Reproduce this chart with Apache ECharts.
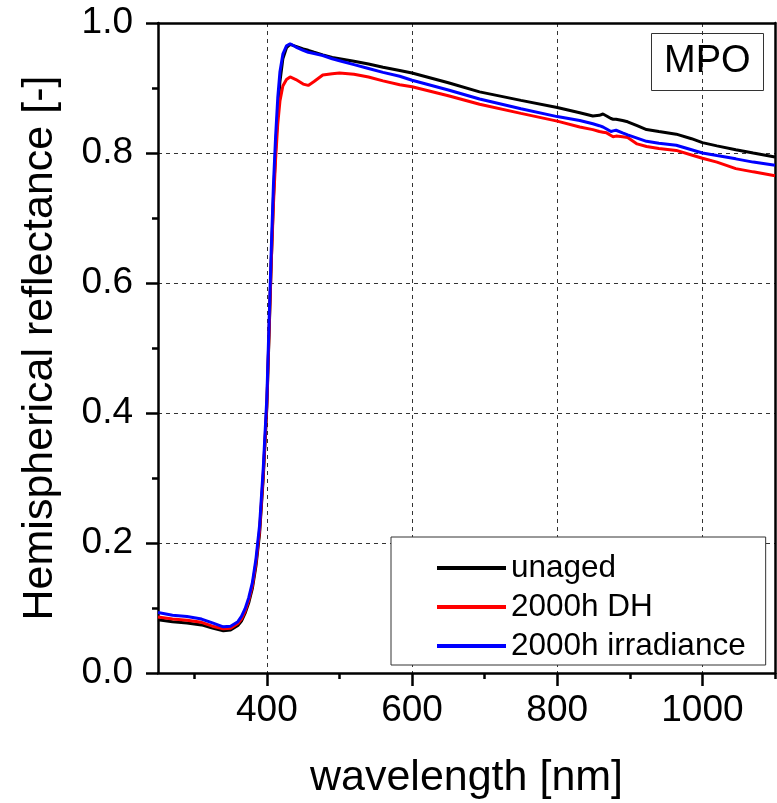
<!DOCTYPE html>
<html>
<head>
<meta charset="utf-8">
<script src="https://cdn.jsdelivr.net/npm/echarts@6/dist/echarts.min.js"></script>
<style>html,body{margin:0;padding:0;background:#fff}#c{width:777px;height:803px}</style>
</head>
<body>
<div id="c"></div>
<script>
const wavelengths = [250,270,290,310,325,340,350,360,365,370,375,380,385,390,395,400,403,406,409,412,415,418,422,427,432,440,450,457,465,477,490,500,520,540,560,583,600,650,693,750,800,831,849,858,863,868,874,877,881,890,897,910,923,940,964,985,1000,1020,1046,1070,1100];
const unaged = [0.082,0.079,0.077,0.074,0.069,0.065,0.066,0.073,0.080,0.092,0.108,0.130,0.165,0.215,0.300,0.410,0.520,0.630,0.730,0.805,0.865,0.910,0.945,0.962,0.967,0.964,0.960,0.958,0.955,0.951,0.947,0.945,0.941,0.937,0.932,0.927,0.923,0.908,0.894,0.881,0.870,0.862,0.857,0.858,0.860,0.857,0.853,0.852,0.852,0.850,0.848,0.842,0.836,0.833,0.829,0.822,0.816,0.811,0.805,0.800,0.794];
const dh = [0.086,0.083,0.081,0.078,0.072,0.068,0.069,0.076,0.083,0.095,0.112,0.134,0.170,0.220,0.305,0.415,0.525,0.630,0.720,0.790,0.845,0.880,0.903,0.913,0.917,0.913,0.906,0.904,0.910,0.920,0.922,0.923,0.921,0.917,0.911,0.905,0.902,0.888,0.875,0.861,0.849,0.840,0.836,0.833,0.832,0.831,0.827,0.825,0.826,0.825,0.824,0.814,0.810,0.807,0.804,0.797,0.792,0.786,0.776,0.771,0.765];
const irradiance = [0.093,0.089,0.087,0.083,0.077,0.071,0.072,0.079,0.087,0.099,0.116,0.139,0.176,0.228,0.315,0.425,0.540,0.650,0.750,0.825,0.885,0.925,0.952,0.965,0.968,0.963,0.958,0.955,0.953,0.950,0.945,0.942,0.936,0.930,0.924,0.918,0.912,0.897,0.883,0.868,0.856,0.850,0.845,0.842,0.840,0.837,0.833,0.834,0.835,0.831,0.828,0.823,0.818,0.815,0.812,0.805,0.800,0.796,0.791,0.786,0.781];
const seriesNames = ['unaged','2000h DH','2000h irradiance'];
const xMajorTicks = [400,600,800,1000];
const xMinorTicks = [300,500,700,900,1100];

const FONT = 'Liberation Sans, Arial, Helvetica, sans-serif';
const pairs = arr => wavelengths.map((w,i)=>[w,arr[i]]);
const chart = echarts.init(document.getElementById('c'));
const mkSeries = (name, arr, color) => ({
  name, type:'line', data: pairs(arr), symbol:'none', smooth:false,
  lineStyle:{color, width:3}, itemStyle:{color}, xAxisIndex:0, yAxisIndex:0, z:3
});
chart.setOption({
  animation:false,
  backgroundColor:'#fff',
  grid:{left:158, right:2, top:23, bottom:130, containLabel:false, outerBoundsMode:'none'},
  title:{text:'MPO', left:651, top:33, borderColor:'#333', borderWidth:1,
    padding:[10,13,10,13],
    textStyle:{fontFamily:FONT, fontSize:38, fontWeight:'normal', color:'#000', lineHeight:38}},
  legend:{orient:'vertical', left:391, top:537, align:'left',
    data:seriesNames, icon:'rect', itemWidth:69, itemHeight:4, itemGap:7, itemTextGap:9,
    borderColor:'#333', borderWidth:1, padding:[15,20,3,46], backgroundColor:'#fff',
    textStyle:{fontFamily:FONT, fontSize:31.5, color:'#000', lineHeight:30}},
  xAxis:[
    {type:'value', min:250, max:1100, position:'bottom',
     name:'wavelength [nm]', nameLocation:'middle', nameGap:84,
     nameTextStyle:{fontFamily:FONT, fontSize:43, color:'#000'},
     axisLine:{show:true, onZero:false, lineStyle:{color:'#000', width:2.5}},
     axisTick:{show:true, inside:false, length:13, customValues:xMajorTicks, lineStyle:{color:'#000', width:2.5}},
     axisLabel:{show:true, customValues:xMajorTicks, margin:19, fontFamily:FONT, fontSize:37, color:'#000', formatter:v=>String(v)},
     splitLine:{show:true, lineStyle:{color:'#333', type:[4,4], width:1}},
     minorTick:{show:false}},
    {type:'value', min:250, max:1100, position:'bottom',
     axisLine:{show:false}, axisLabel:{show:false}, splitLine:{show:false},
     axisTick:{show:true, inside:false, length:6, customValues:xMinorTicks, lineStyle:{color:'#000', width:2.5}}},
    {type:'value', min:250, max:1100, position:'top',
     axisLine:{show:true, onZero:false, lineStyle:{color:'#000', width:2.5}},
     axisTick:{show:false}, axisLabel:{show:false}, splitLine:{show:false}}
  ],
  yAxis:[
    {type:'value', min:0, max:1, interval:0.2, position:'left',
     name:'Hemispherical reflectance [-]', nameLocation:'middle', nameGap:96,
     nameTextStyle:{fontFamily:FONT, fontSize:43, color:'#000'},
     axisLine:{show:true, onZero:false, lineStyle:{color:'#000', width:2.5}},
     axisTick:{show:true, inside:false, length:12, lineStyle:{color:'#000', width:2.5}},
     minorTick:{show:true, splitNumber:2, length:6, lineStyle:{color:'#000', width:2.5}},
     axisLabel:{margin:25, fontFamily:FONT, fontSize:37, color:'#000', formatter:v=>v.toFixed(1)},
     splitLine:{show:true, lineStyle:{color:'#333', type:[4,4], width:1}}},
    {type:'value', min:0, max:1, interval:0.2, position:'right',
     axisLine:{show:true, onZero:false, lineStyle:{color:'#000', width:2.5}},
     axisTick:{show:false}, axisLabel:{show:false}, splitLine:{show:false}}
  ],
  series:[
    mkSeries(seriesNames[0], unaged, '#000000'),
    mkSeries(seriesNames[1], dh, '#ff0000'),
    mkSeries(seriesNames[2], irradiance, '#0000ff')
  ]
});
</script>
</body>
</html>
